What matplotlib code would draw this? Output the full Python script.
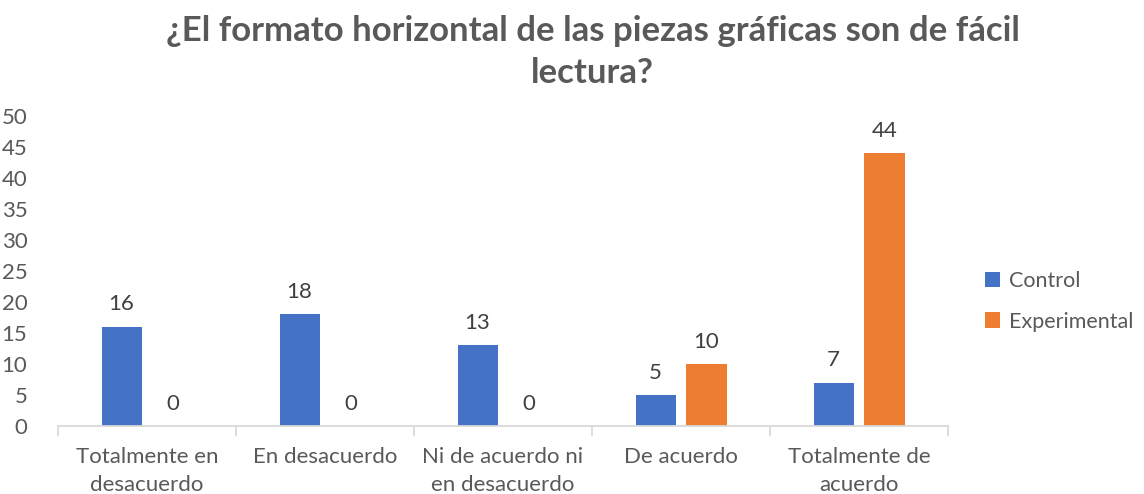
import numpy as np
import matplotlib
matplotlib.use("Agg")
import matplotlib.pyplot as plt

plt.rcParams['font.family'] = ['Lato', 'DejaVu Sans']

# data
categories = ["Totalmente en\ndesacuerdo", "En desacuerdo", "Ni de acuerdo ni\nen desacuerdo",
              "De acuerdo", "Totalmente de\nacuerdo"]
control = [16, 18, 13, 5, 7]
experimental = [0, 0, 0, 10, 44]
series_names = ["Control", "Experimental"]
colors = ["#4472C4", "#ED7D31"]
text_col = "#595959"

fig = plt.figure(figsize=(11.44, 4.94), dpi=100)
ax = fig.add_axes([0.0507, 0.1377, 0.778, 0.6275])

x = np.arange(len(categories))
w = 0.225
off = 0.143
b1 = ax.bar(x - off, control, w, color=colors[0], label=series_names[0])
b2 = ax.bar(x + off, experimental, w, color=colors[1], label=series_names[1])

for bars, vals in ((b1, control), (b2, experimental)):
    for b, v in zip(bars, vals):
        ax.text(b.get_x() + b.get_width() / 2, v + 2.0, str(v), ha="center", va="bottom",
                fontsize=16, color="#404040")

ax.set_xlim(-0.5, len(categories) - 0.5)
ax.set_ylim(0, 50)
ax.set_yticks(range(0, 51, 5))
ax.tick_params(axis="y", length=0, labelsize=16, labelcolor=text_col, pad=22)

ax.set_xticks(x)
ax.set_xticklabels(categories, fontsize=16, color=text_col, linespacing=1.5)
ax.set_xticks(np.arange(-0.5, len(categories), 1), minor=True)
ax.tick_params(axis="x", which="major", length=0, pad=15)
ax.tick_params(axis="x", which="minor", length=7, color="#d9d9d9", width=1.3)

for s in ("top", "right", "left"):
    ax.spines[s].set_visible(False)
ax.spines["bottom"].set_color("#d9d9d9")
ax.spines["bottom"].set_linewidth(1.3)

fig.text(0.518, 0.895, "¿El formato horizontal de las piezas gráficas son de fácil\nlectura?",
         ha="center", va="center", fontsize=25, fontweight="bold", color=text_col,
         linespacing=1.4)

fig.legend(handles=[b1, b2], loc="center left", bbox_to_anchor=(0.844, 0.39),
           frameon=False, fontsize=15.5, labelcolor=text_col, handlelength=0.7,
           handleheight=0.7, handletextpad=0.4, labelspacing=0.95)

fig.savefig("out.png", dpi=100)
